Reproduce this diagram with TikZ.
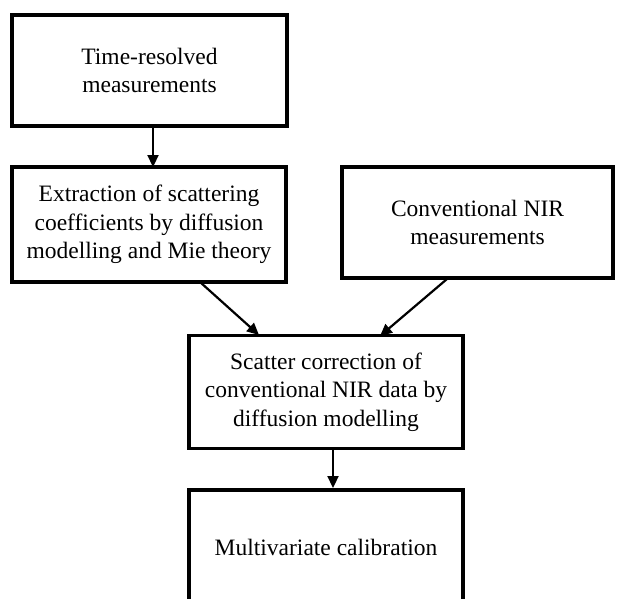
\documentclass[tikz,border=0pt]{standalone}
\usepackage{fontspec}
\setmainfont{Liberation Serif}
\usetikzlibrary{arrows.meta,calc}
\begin{document}
\begin{tikzpicture}[x=1pt,y=-1pt,
  stepbox/.style={draw=black,line width=3.6pt,align=center,inner sep=0pt,
    font=\fontsize{23.5}{28.5}\selectfont,text=black},
  conn/.style={draw=black,line width=2.2pt,-{Triangle[length=12pt,width=11pt]}},
  plain/.style={font=\fontsize{23.5}{28.5}\selectfont,text=black}]
\useasboundingbox (0,0) rectangle (617,598);
\clip (0,0) rectangle (617,598);
\node[stepbox,minimum width=275pt,minimum height=111pt] (b1) at (149.5,70.5) {Time-resolved\\measurements};
\node[stepbox,minimum width=274pt,minimum height=115pt] (b2) at (149,224.5) {Extraction of scattering\\coefficients by diffusion\\modelling and Mie theory};
\node[stepbox,minimum width=271pt,minimum height=111pt] (b3) at (477.5,222.5) {Conventional NIR\\measurements};
\node[stepbox,minimum width=274pt,minimum height=113pt] (b4) at (326,392) {Scatter correction of\\conventional NIR data by\\diffusion modelling};
\node[stepbox,minimum width=274pt,minimum height=130pt,anchor=north] (b5) at (326,488) {};
\node[plain] (t5) at (326,547) {Multivariate calibration};
\coordinate (a1s) at (153,126);
\coordinate (a1e) at (153,167);
\coordinate (a2s) at (200,282);
\coordinate (a2e) at (259,335);
\coordinate (a3s) at (447,279);
\coordinate (a3e) at (380,336);
\coordinate (a4s) at (333,449);
\coordinate (a4e) at (333,488);
\draw[conn] (a1s) -- (a1e);
\draw[conn] (a2s) -- (a2e);
\draw[conn] (a3s) -- (a3e);
\draw[conn] (a4s) -- (a4e);
\end{tikzpicture}
\end{document}
